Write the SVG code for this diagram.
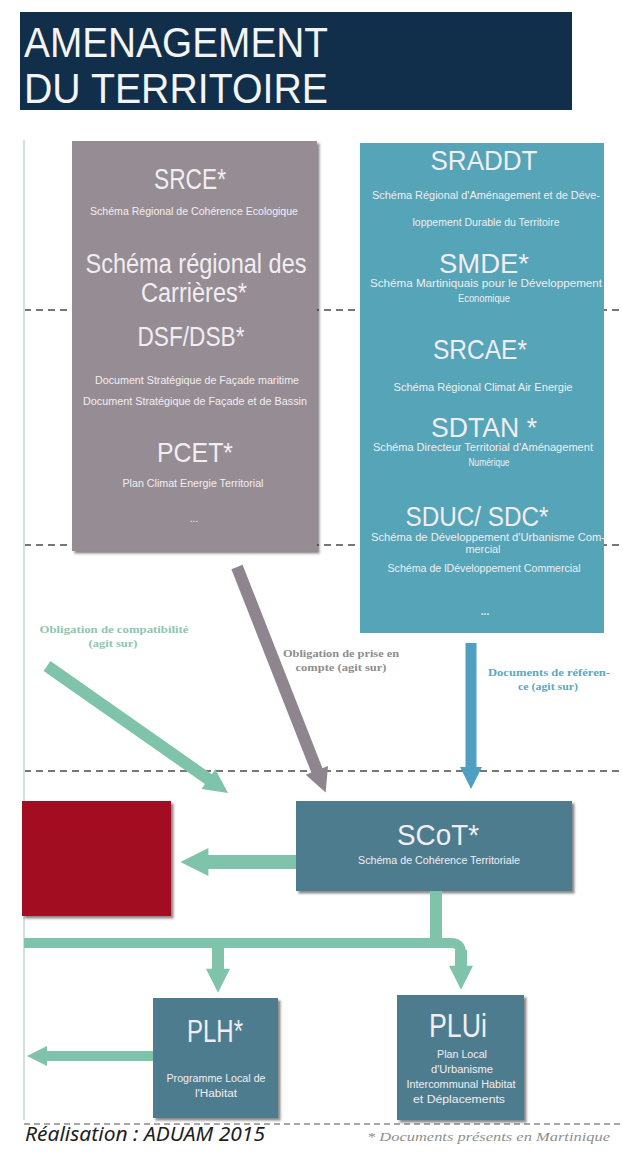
<svg xmlns="http://www.w3.org/2000/svg" width="623" height="1154" viewBox="0 0 623 1154">
  <style>
    .sans { font-family: "Liberation Sans", Arial, sans-serif; }
    .head { font-family: "Liberation Sans", Arial, sans-serif; fill: #f1eef1; text-anchor: middle; }
    .small { font-family: "Liberation Sans", Arial, sans-serif; font-size: 10px; fill: #f1eef1; text-anchor: middle; }
    .lbl { font-family: "Liberation Serif", "Times New Roman", serif; font-size: 11px; font-weight: bold; text-anchor: middle; }
    .dash { stroke: #4a4a4a; stroke-width: 1.5; stroke-dasharray: 7 5; fill: none; }
    .mint { stroke: #7fc3ab; fill: none; }
  </style>
  <defs>
    <filter id="shadow" x="-10%" y="-10%" width="130%" height="130%">
      <feDropShadow dx="2.5" dy="2.5" stdDeviation="1.2" flood-color="#2a2a2a" flood-opacity="0.55"/>
    </filter>
    <marker id="headMint" viewBox="0 0 10 10" refX="0.5" refY="5" markerWidth="2.2" markerHeight="2" markerUnits="strokeWidth" orient="auto">
      <path d="M0,0 L10,5 L0,10 z" fill="#7fc3ab"/>
    </marker>
    <marker id="headGrey" viewBox="0 0 10 10" refX="0.5" refY="5" markerWidth="2.2" markerHeight="2" markerUnits="strokeWidth" orient="auto">
      <path d="M0,0 L10,5 L0,10 z" fill="#8e858e"/>
    </marker>
    <marker id="headBlue" viewBox="0 0 10 10" refX="0.5" refY="5" markerWidth="2.2" markerHeight="2" markerUnits="strokeWidth" orient="auto">
      <path d="M0,0 L10,5 L0,10 z" fill="#4fa0c0"/>
    </marker>
  </defs>

  <rect width="623" height="1154" fill="#ffffff"/>

  <!-- level separators -->
  <g id="separators">
    <line class="dash" x1="24" y1="310" x2="623" y2="310"/>
    <line class="dash" x1="24" y1="545" x2="623" y2="545"/>
    <line class="dash" x1="24" y1="771" x2="623" y2="771"/>
    <line x1="24" y1="1124" x2="623" y2="1124" stroke="#8a8a8a" stroke-width="1.5" stroke-dasharray="6 4"/>
    <line x1="24" y1="140" x2="24" y2="1120" stroke="#d0e2e0" stroke-width="2"/>
  </g>

  <!-- title banner -->
  <g id="title">
    <rect x="20" y="12" width="552" height="98" fill="#112e4b"/>
    <text class="sans" x="24" y="57" font-size="42" fill="#f4f4f4" textLength="304" lengthAdjust="spacingAndGlyphs">AMENAGEMENT</text>
    <text class="sans" x="24" y="103" font-size="42" fill="#f4f4f4" textLength="304" lengthAdjust="spacingAndGlyphs">DU TERRITOIRE</text>
  </g>

  <!-- regional schemes taken into account -->
  <g id="regional-schemes">
    <rect x="72" y="141" width="245" height="410" fill="#968c94" filter="url(#shadow)"/>
    <text class="head" x="190" y="189" font-size="30" textLength="72" lengthAdjust="spacingAndGlyphs">SRCE*</text>
    <text class="small" x="194" y="215" textLength="208" lengthAdjust="spacingAndGlyphs">Schéma Régional de Cohérence Ecologique</text>
    <text class="head" x="196" y="273" font-size="27" textLength="221" lengthAdjust="spacingAndGlyphs">Schéma régional des</text>
    <text class="head" x="194" y="302" font-size="27" textLength="106" lengthAdjust="spacingAndGlyphs">Carrières*</text>
    <text class="head" x="191" y="346" font-size="28" textLength="107" lengthAdjust="spacingAndGlyphs">DSF/DSB*</text>
    <text class="small" x="197" y="384" textLength="204" lengthAdjust="spacingAndGlyphs">Document Stratégique de Façade maritime</text>
    <text class="small" x="195" y="405" textLength="224" lengthAdjust="spacingAndGlyphs">Document Stratégique de Façade et de Bassin</text>
    <text class="head" x="195" y="462" font-size="28" textLength="76" lengthAdjust="spacingAndGlyphs">PCET*</text>
    <text class="small" x="193" y="487" textLength="141" lengthAdjust="spacingAndGlyphs">Plan Climat Energie Territorial</text>
    <text class="small" x="194" y="522" font-size="12">...</text>
  </g>

  <!-- reference documents -->
  <g id="reference-documents">
    <rect x="360" y="143" width="244" height="490" fill="#55a4b7"/>
    <text class="head" x="484" y="170" font-size="28" textLength="107" lengthAdjust="spacingAndGlyphs">SRADDT</text>
    <text class="small" x="486" y="199" textLength="228" lengthAdjust="spacingAndGlyphs">Schéma Régional d'Aménagement et de Déve-</text>
    <text class="small" x="486" y="226" textLength="147" lengthAdjust="spacingAndGlyphs">loppement Durable du Territoire</text>
    <text class="head" x="484" y="273" font-size="28" textLength="90" lengthAdjust="spacingAndGlyphs">SMDE*</text>
    <text class="small" x="486" y="287" textLength="232" lengthAdjust="spacingAndGlyphs">Schéma Martiniquais pour le Développement</text>
    <text class="small" x="484" y="302" textLength="52" lengthAdjust="spacingAndGlyphs">Economique</text>
    <text class="head" x="480" y="359" font-size="28" textLength="94" lengthAdjust="spacingAndGlyphs">SRCAE*</text>
    <text class="small" x="483" y="391" textLength="179" lengthAdjust="spacingAndGlyphs">Schéma Régional Climat Air Energie</text>
    <text class="head" x="484" y="437" font-size="28" textLength="106" lengthAdjust="spacingAndGlyphs">SDTAN *</text>
    <text class="small" x="483" y="451" textLength="220" lengthAdjust="spacingAndGlyphs">Schéma Directeur Territorial  d'Aménagement</text>
    <text class="small" x="489" y="466" textLength="41" lengthAdjust="spacingAndGlyphs">Numérique</text>
    <text class="head" x="477" y="526" font-size="27" textLength="143" lengthAdjust="spacingAndGlyphs">SDUC/ SDC*</text>
    <text class="small" x="488" y="541" textLength="234" lengthAdjust="spacingAndGlyphs">Schéma de Développement d'Urbanisme Com-</text>
    <text class="small" x="483" y="553" textLength="35" lengthAdjust="spacingAndGlyphs">mercial</text>
    <text class="small" x="484" y="572" textLength="193" lengthAdjust="spacingAndGlyphs">Schéma de lDéveloppement Commercial</text>
    <text class="small" x="485" y="615" font-size="12" font-weight="bold" fill="#ffffff">...</text>
  </g>

  <!-- left block -->
  <g id="red-block">
    <rect x="22" y="801" width="149" height="115" fill="#a30f22" filter="url(#shadow)"/>
  </g>

  <g id="scot">
    <rect x="296" y="801" width="276" height="90" fill="#4d7c8f" filter="url(#shadow)"/>
    <text class="head" x="438" y="845" font-size="30" textLength="82" lengthAdjust="spacingAndGlyphs">SCoT*</text>
    <text class="small" x="439" y="864" font-size="10.5" textLength="162" lengthAdjust="spacingAndGlyphs">Schéma de Cohérence Territoriale</text>
  </g>

  <g id="plh">
    <rect x="153" y="998" width="125" height="120" fill="#4d7c8f" filter="url(#shadow)"/>
    <text class="head" x="215" y="1042" font-size="31" textLength="56" lengthAdjust="spacingAndGlyphs">PLH*</text>
    <text class="small" x="216" y="1082" font-size="10.5" textLength="99" lengthAdjust="spacingAndGlyphs">Programme Local de</text>
    <text class="small" x="216" y="1097" font-size="10.5" textLength="42" lengthAdjust="spacingAndGlyphs">l'Habitat</text>
  </g>

  <g id="plui">
    <rect x="397" y="995" width="127" height="125" fill="#4d7c8f" filter="url(#shadow)"/>
    <text class="head" x="458" y="1037" font-size="33" textLength="58" lengthAdjust="spacingAndGlyphs">PLUi</text>
    <text class="small" x="462" y="1058" font-size="10.5" textLength="50" lengthAdjust="spacingAndGlyphs">Plan Local</text>
    <text class="small" x="462" y="1073" font-size="10.5" textLength="62" lengthAdjust="spacingAndGlyphs">d'Urbanisme</text>
    <text class="small" x="461" y="1088" font-size="10.5" textLength="109" lengthAdjust="spacingAndGlyphs">Intercommunal Habitat</text>
    <text class="small" x="459" y="1103" font-size="10.5" textLength="92" lengthAdjust="spacingAndGlyphs">et Déplacements</text>
  </g>

  <!-- connectors -->
  <g id="connectors">
    <line class="mint" x1="47" y1="666" x2="209.4" y2="779.8" stroke-width="12" marker-end="url(#headMint)"/>
    <line x1="237" y1="567" x2="317.3" y2="771.4" stroke="#8e858e" stroke-width="12" marker-end="url(#headGrey)"/>
    <line x1="471" y1="643" x2="471" y2="768" stroke="#4fa0c0" stroke-width="11" marker-end="url(#headBlue)"/>

    <line class="mint" x1="296" y1="862" x2="207" y2="862" stroke-width="14" marker-end="url(#headMint)"/>
    <line class="mint" x1="436" y1="891" x2="436" y2="946" stroke-width="12"/>
    <path class="mint" d="M24,943 H451 Q461,943 461,953" stroke-width="10"/>
    <line class="mint" x1="218" y1="943" x2="218" y2="970" stroke-width="12" marker-end="url(#headMint)"/>
    <line class="mint" x1="461" y1="950" x2="461" y2="967" stroke-width="12" marker-end="url(#headMint)"/>
    <line class="mint" x1="153" y1="1056" x2="46" y2="1056" stroke-width="10" marker-end="url(#headMint)"/>
  </g>

  <!-- connector labels -->
  <g id="labels">
    <text class="lbl" x="114" y="633" fill="#8cc6b1" textLength="149" lengthAdjust="spacingAndGlyphs">Obligation de compatibilité</text>
    <text class="lbl" x="113" y="647" fill="#8cc6b1" textLength="49" lengthAdjust="spacingAndGlyphs">(agit sur)</text>
    <text class="lbl" x="341" y="657" fill="#8d8d8d" textLength="116" lengthAdjust="spacingAndGlyphs">Obligation de prise en</text>
    <text class="lbl" x="341" y="671" fill="#8d8d8d" textLength="91" lengthAdjust="spacingAndGlyphs">compte (agit sur)</text>
    <text class="lbl" x="549" y="676" fill="#5ea6bd" textLength="122" lengthAdjust="spacingAndGlyphs">Documents de référen-</text>
    <text class="lbl" x="548" y="690" fill="#5ea6bd" textLength="60" lengthAdjust="spacingAndGlyphs">ce (agit sur)</text>
  </g>

  <!-- footer -->
  <g id="footer">
    <text x="25" y="1141" font-family="'Noto Sans', 'Open Sans', sans-serif" font-style="italic" font-size="19" fill="#1e1e1e" textLength="240" lengthAdjust="spacingAndGlyphs">Réalisation : ADUAM 2015</text>
    <text x="610" y="1141" font-family="'Liberation Serif', serif" font-style="italic" font-size="13" fill="#8f8f8f" text-anchor="end" textLength="243" lengthAdjust="spacingAndGlyphs">* Documents présents en Martinique</text>
  </g>
</svg>
